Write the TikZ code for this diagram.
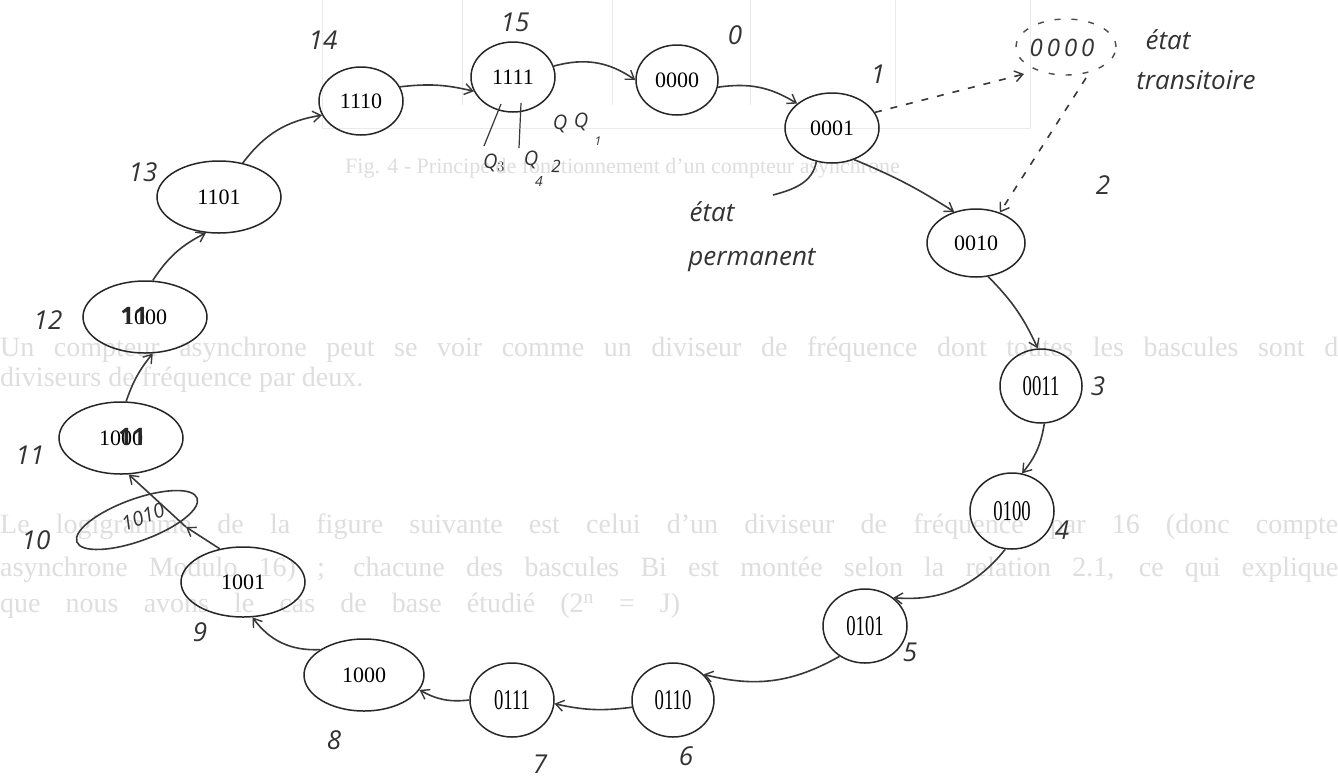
\documentclass[tikz,border=0pt]{standalone}
\usepackage{fontspec}
\setmainfont{Liberation Serif}
\newfontfamily\hand{Open Sans}
\usetikzlibrary{shapes.geometric,arrows.meta}

\begin{document}
\begin{tikzpicture}[x=1pt,y=1pt,
  state/.style={draw=black!85, line width=1.5pt, ellipse, inner sep=0pt,
                font=\fontsize{22}{22}\selectfont},
  arr/.style={draw=black!78, line width=1.6pt,
              -{Straight Barb[length=8pt,width=11pt,line width=1.4pt]}},
  dasharr/.style={arr, dash pattern=on 7pt off 9pt},
  pen/.style={draw=black!78, line width=1.6pt},
  ink/.style={font=\hand\itshape\fontsize{26}{26}\selectfont, text=black!80, inner sep=0pt},
  smallink/.style={font=\hand\itshape\fontsize{20}{20}\selectfont, text=black!80, inner sep=0pt},
  tinyink/.style={font=\hand\itshape\fontsize{14}{14}\selectfont, text=black!80, inner sep=0pt},
  ghost/.style={text=black!13, font=\fontsize{28}{28}\selectfont, anchor=west, inner sep=0pt},
  ghostline/.style={draw=black!8, line width=1pt},
]
\useasboundingbox (0,0) rectangle (1338,-777);
\fill[white] (0,0) rectangle (1338,-777);

% faint print from the facing page
\draw[ghostline] (322,0) -- (322,-128) -- (1030,-128) -- (1030,0);
\foreach \gx in {462,612,750,895} \draw[ghostline] (\gx,0) -- (\gx,-105);
\node[ghost, font=\fontsize{22}{22}\selectfont] (g0) at (345,-168) {Fig. 4 - Principe de fonctionnement d'un compteur asynchrone};
\node[ghost] (g1) at (0,-350) {\makebox[1338pt][s]{Un compteur asynchrone peut se voir comme un diviseur de fréquence dont toutes les bascules sont d}};
\node[ghost] (g2) at (0,-380) {diviseurs de fréquence par deux.};
\node[ghost] (g3) at (0,-527) {\makebox[1338pt][s]{Le logigramme de la figure suivante est celui d'un diviseur de fréquence par 16 (donc compte}};
\node[ghost] (g4) at (0,-570) {\makebox[1338pt][s]{asynchrone Modulo 16) ; chacune des bascules Bi est montée selon la relation 2.1, ce qui explique}};
\node[ghost] (g5) at (0,-606) {\makebox[680pt][s]{que nous avons le cas de base étudié (2\textsuperscript{n} = J)}};

% the sixteen states of the counter
\node[state, minimum width=84pt,  minimum height=68pt] (n1110) at (361,-101) {1110};
\node[state, minimum width=84pt,  minimum height=70pt] (n1111) at (513,-77)  {1111};
\node[state, minimum width=82pt,  minimum height=70pt] (n0000) at (677,-80)  {0000};
\node[state, minimum width=94pt,  minimum height=70pt] (n0001) at (832,-128) {0001};
\node[state, minimum width=98pt,  minimum height=68pt] (n0010) at (976,-243) {0010};
\node[state, minimum width=82pt,  minimum height=74pt] (n0011) at (1041,-386) {\scalebox{0.85}[1.3]{0011}};
\node[state, minimum width=84pt,  minimum height=76pt] (n0100) at (1012,-511) {\scalebox{0.85}[1.3]{0100}};
\node[state, minimum width=84pt,  minimum height=74pt] (n0101) at (865,-626) {\scalebox{0.85}[1.3]{0101}};
\node[state, minimum width=82pt,  minimum height=74pt] (n0110) at (673,-700) {\scalebox{0.85}[1.3]{0110}};
\node[state, minimum width=84pt,  minimum height=74pt] (n0111) at (512,-700) {\scalebox{0.85}[1.3]{0111}};
\node[state, minimum width=120pt, minimum height=72pt] (n1000) at (364,-675) {1000};
\node[state, minimum width=124pt, minimum height=70pt] (n1001) at (243,-582) {1001};
\node[state, minimum width=124pt, minimum height=72pt] (n1011) at (121,-438) {1000};
\node[state, minimum width=124pt, minimum height=72pt] (n1100) at (145,-317) {1000};
\node[state, minimum width=124pt, minimum height=72pt] (n1101) at (219,-197) {1101};

% pen corrections written over the printed codes
\node[font=\hand\bfseries\fontsize{24}{24}\selectfont, text=black!85, inner sep=0pt] (c1011) at (132,-437) {11};
\node[font=\hand\bfseries\fontsize{24}{24}\selectfont, text=black!85, inner sep=0pt] (c1100) at (134,-316) {11};

% the hand-drawn state 1010
\draw[pen, rotate around={20:(137,-520)}] (137,-520) ellipse (64pt and 21pt);
\node[smallink, rotate=20] (t1010) at (143,-517) {1010};
\coordinate (m1010) at (186,-527);

% transitions
\draw[arr] (n1101.55)   to[bend left=22] (n1110.200);
\draw[arr] (n1110.20)   to[bend left=10] (n1111.200);
\draw[arr] (n1111.15)   to[bend left=25] (n0000.180);
\draw[arr] (n0000.-10)  to[bend left=20] (n0001.145);
\draw[arr] (n0001.-55)  to[bend left=5]  (n0010.125);
\draw[arr] (n0010.-70)  to[bend left=10] (n0011.95);
\draw[arr] (n0011.-85)  to[bend left=15] (n0100.75);
\draw[arr] (n0100.-100) to[bend left=28] (n0101.45);
\draw[arr] (n0101.-130) to[bend left=22] (n0110.40);
\draw[arr] (n0110.190)  to[bend left=10] (n0111.-5);
\draw[arr] (n0111.180)  to[bend left=18] (n1000.-15);
\draw[arr] (n1000.150)  to[bend left=28] (n1001.-75);
\draw[arr] (n1001.125) -- (m1010);
\draw[arr] (m1010) -- (n1011.-78);
\draw[arr] (n1011.82)   to[bend left=10] (n1100.-78);
\draw[arr] (n1100.78)   to[bend left=15] (n1101.-110);

% transient state 0000 between 0001 and 0010
\node[font=\hand\itshape\fontsize{24}{24}\selectfont, text=black!80, inner sep=0pt] (tr) at (1062,-48) {0\,0\,0\,0};
\draw[draw=black!70, line width=1.4pt, dash pattern=on 6pt off 11pt] (1066,-47) ellipse (50pt and 28pt);
\coordinate (trin) at (1024,-74);
\coordinate (trout) at (1086,-78);
\draw[dasharr] (n0001.20) -- (trin);
\draw[dasharr] (trout) -- (n0010.52);
\node[ink] (lbt1) at (1168,-40) {état};
\node[ink] (lbt2) at (1196,-80) {transitoire};
\node[ink] (lbp1) at (712,-212) {état};
\node[ink] (lbp2) at (752,-260) {permanent};
\coordinate (perm) at (773,-195);
\draw[pen] (n0001.-115) to[out=-100,in=15] (perm);

% decimal values of the states
\node[ink] (d0)  at (735,-35)  {0};
\node[ink] (d1)  at (878,-74)  {1};
\node[ink] (d2)  at (1103,-185) {2};
\node[ink] (d3)  at (1098,-386) {3};
\node[ink] (d4)  at (1062,-530) {4};
\node[ink] (d5)  at (910,-652) {5};
\node[ink] (d6)  at (686,-756) {6};
\node[ink] (d7)  at (540,-764) {7};
\node[ink] (d8)  at (334,-740) {8};
\node[ink] (d9)  at (200,-632) {9};
\node[ink] (d10) at (36,-540)  {10};
\node[ink] (d11) at (30,-455)  {11};
\node[ink] (d12) at (48,-320)  {12};
\node[ink] (d13) at (143,-172) {13};
\node[ink] (d14) at (323,-40)  {14};
\node[ink] (d15) at (515,-22)  {15};

% flip-flop outputs under 1111
\coordinate (qa0) at (501,-104);
\coordinate (qa1) at (484,-146);
\coordinate (qb0) at (521,-103);
\coordinate (qb1) at (519,-148);
\draw[pen, line width=1.2pt] (qa0) -- (qa1);
\draw[pen, line width=1.2pt] (qb0) -- (qb1);
\node[smallink] (q3) at (494,-163) {Q$_3$};
\node[smallink] (q4) at (531,-160) {Q};
\node[tinyink] (q4s) at (539,-181) {4};
\node[tinyink, font=\hand\itshape\fontsize{17}{17}\selectfont] (q2s) at (556,-166) {2};
\node[smallink] (q2) at (560,-124) {Q};
\node[smallink] (q1) at (581,-122) {Q};
\node[tinyink, font=\hand\itshape\fontsize{12}{12}\selectfont] (q1s) at (598,-141) {1};
\end{tikzpicture}
\end{document}
